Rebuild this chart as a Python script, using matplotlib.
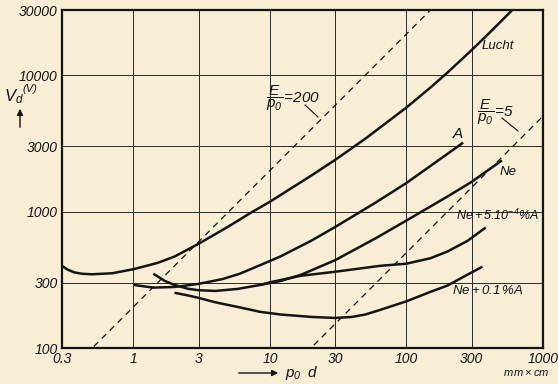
import numpy as np
import matplotlib
matplotlib.use("Agg")
import matplotlib.pyplot as plt

# Paschen curves, breakdown voltage vs p0*d (mm x cm)
lucht_pd = [0.3, 0.33, 0.37, 0.42, 0.5, 0.7, 1, 1.5, 2, 3, 5, 7, 10, 20, 30, 50, 100, 150, 200, 300, 400, 600]
lucht_v = [400, 375, 358, 350, 347, 353, 378, 420, 468, 580, 780, 960, 1180, 1830, 2390, 3420, 5790, 8110, 10450, 15240, 20150, 30200]

argon_pd = [1, 1.4, 2, 3, 4.5, 6, 8.5, 12, 20, 30, 60, 100, 200, 260]
argon_v = [290, 277, 280, 295, 320, 350, 405, 470, 610, 770, 1170, 1620, 2650, 3200]

neon_pd = [1.4, 1.7, 2, 2.5, 3, 4, 5.8, 8.5, 12, 17, 30, 60, 100, 200, 300, 500]
neon_v = [350, 310, 290, 272, 265, 262, 271, 290, 310, 345, 440, 640, 860, 1290, 1650, 2370]

neon_mix1_pd = [8.5, 10, 16.7, 30, 64, 100, 150, 200, 280, 380]
neon_mix1_v = [290, 303, 338, 362, 400, 415, 455, 510, 610, 763]

neon_mix2_pd = [2, 2.5, 3, 4, 5.8, 8.5, 12, 20, 30, 40, 50, 64, 100, 150, 200, 280, 360]
neon_mix2_v = [254, 243, 233, 216, 200, 184, 176, 169, 166, 169, 176, 190, 220, 258, 287, 345, 394]

# E/p0 reference lines
e_over_p = [200, 5]
pd_span = [0.3, 1000]

plt.rcParams['mathtext.fontset'] = 'custom'
plt.rcParams['mathtext.rm'] = 'Liberation Sans:italic'
plt.rcParams['mathtext.it'] = 'Liberation Sans:italic'
plt.rcParams['mathtext.sf'] = 'Liberation Sans:italic'
plt.rcParams['font.family'] = ['Liberation Sans', 'DejaVu Sans']

bg = '#f8edd5'
ink = '#141414'
W, H = 558, 384

fig = plt.figure(figsize=(W / 100, H / 100), dpi=100, facecolor=bg)
ax = fig.add_axes([62 / W, 1 - 348 / H, (543 - 62) / W, (348 - 10) / H])
ax.set_facecolor(bg)
ax.set_xscale('log')
ax.set_yscale('log')
ax.set_xlim(0.3, 1000)
ax.set_ylim(100, 30000)

xt = [0.3, 1, 3, 10, 30, 100, 300, 1000]
yt = [100, 300, 1000, 3000, 10000, 30000]
ax.set_xticks(xt)
ax.set_xticklabels(['0.3', '1', '3', '10', '30', '100', '300', '1000'],
                   style='italic', fontsize=10)
ax.set_yticks(yt)
ax.set_yticklabels(['100', '300', '1000', '3000', '10000', '30000'],
                   style='italic', fontsize=10)
ax.minorticks_off()
ax.tick_params(length=0, pad=3, colors=ink)
ax.grid(True, color='#2a2a2a', lw=0.7)
for s in ax.spines.values():
    s.set_linewidth(1.6)
    s.set_color(ink)

for pd, v in [(lucht_pd, lucht_v), (argon_pd, argon_v), (neon_pd, neon_v),
              (neon_mix1_pd, neon_mix1_v), (neon_mix2_pd, neon_mix2_v)]:
    ax.plot(pd, v, color=ink, lw=1.8, solid_capstyle='butt',
            solid_joinstyle='round', clip_on=True)

for k in e_over_p:
    ax.plot(pd_span, [k * p for p in pd_span], color=ink, lw=0.9,
            dashes=(5, 4), clip_on=True)


def px(x, y, s, **kw):
    fig.text(x / W, 1 - y / H, s, color=ink, **kw)


# curve labels
px(482, 46, 'Lucht', fontsize=9.5, style='italic', va='center')
px(453, 134, 'A', fontsize=11, style='italic', va='center')
px(500, 172, 'Ne', fontsize=9.5, style='italic', va='center')
px(456, 215, r'$Ne+5.10^{-4}\%A$', fontsize=9, va='center')
px(452, 290, r'$Ne+0.1\,\%A$', fontsize=9.5, va='center')

# E/p0 labels with leader lines
px(266, 98, r'$\dfrac{E}{p_0}\!=\!200$', fontsize=11, va='center')
px(477, 112, r'$\dfrac{E}{p_0}\!=\!5$', fontsize=11, va='center')
fig.add_artist(plt.Line2D([305 / W, 318 / W], [1 - 105 / H, 1 - 117 / H], color=ink, lw=0.8))
fig.add_artist(plt.Line2D([502 / W, 518 / W], [1 - 118 / H, 1 - 131 / H], color=ink, lw=0.8))

# axis labels
px(4, 97, r'$V_d$', fontsize=12, va='center')
px(22, 89, '(V)', fontsize=8, style='italic', va='center')
ax.annotate('', xy=(20 / W, 1 - 106 / H), xytext=(20 / W, 1 - 130 / H),
            xycoords='figure fraction',
            arrowprops=dict(arrowstyle='-|>', color=ink, lw=1.0, mutation_scale=9))
ax.annotate('', xy=(281 / W, 1 - 373 / H), xytext=(236 / W, 1 - 373 / H),
            xycoords='figure fraction',
            arrowprops=dict(arrowstyle='-|>', color=ink, lw=1.0, mutation_scale=9))
px(285, 373, r'$p_0\;\;d$', fontsize=11, va='center')
px(503, 373, r'$m\,m \times cm$', fontsize=8, va='center')

fig.savefig('out.png', dpi=100, facecolor=bg)
